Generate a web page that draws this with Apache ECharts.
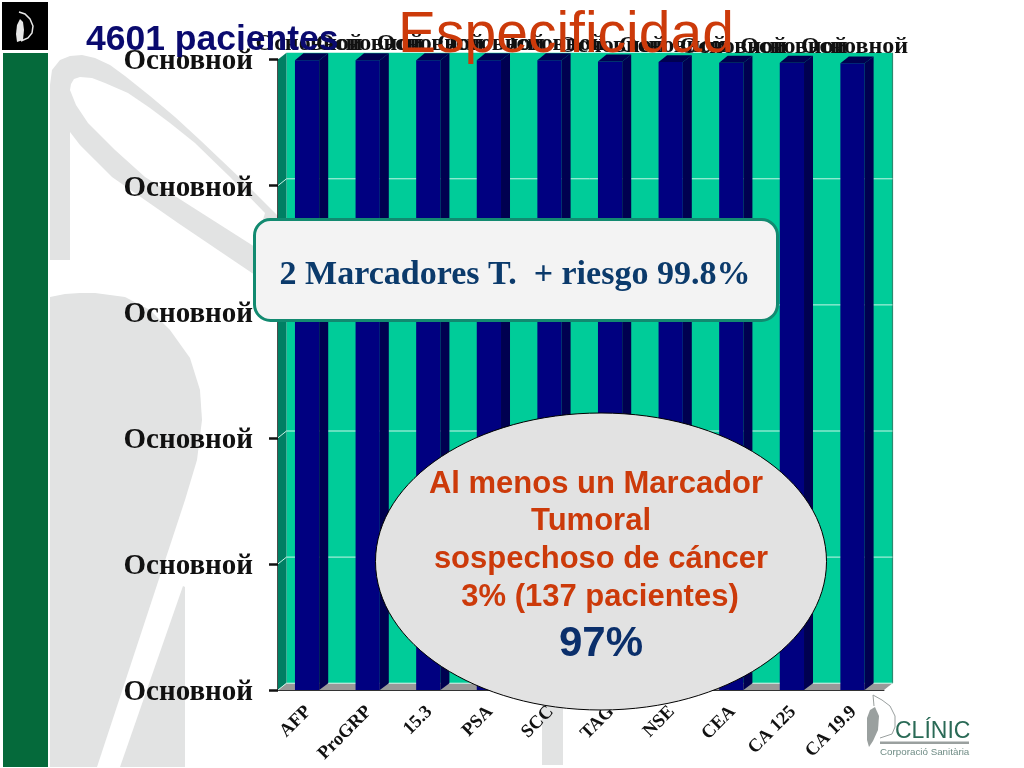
<!DOCTYPE html>
<html>
<head>
<meta charset="utf-8">
<style>
  html, body { margin: 0; padding: 0; background: #fff; }
  #chart { width: 1024px; height: 768px; }
</style>
<script src="https://cdn.jsdelivr.net/npm/echarts@6/dist/echarts.min.js"></script>
</head>
<body>
<div id="chart"></div>
<script>
// Chart data
const categories = ['AFP', 'ProGRP', '15.3', 'PSA', 'SCC', 'TAG', 'NSE', 'CEA', 'CA 125', 'CA 19.9'];
const specificity = [99.9, 99.9, 99.9, 99.9, 99.9, 99.7, 99.6, 99.5, 99.5, 99.4];
const yTickValues = [0, 20, 40, 60, 80, 100];
const yTickLabels = ['Основной', 'Основной', 'Основной', 'Основной', 'Основной', 'Основной'];
const barLabels = ['Основной', 'Основной', 'Основной', 'Основной', 'Основной', 'Основной', 'Основной', 'Основной', 'Основной', 'Основной'];

const SERIF = '"Liberation Serif", serif';
const SANS = '"Liberation Sans", sans-serif';
const depthX = 8.5;
const depthY = 6.8;

const chart = echarts.init(document.getElementById('chart'));

// Back wall, side wall, floor and gridlines of the fake 3D box
function renderWalls(params, api) {
    const box = params.coordSys;
    const left = box.x, right = box.x + box.width;
    const top = box.y, bottom = box.y + box.height;
    const children = [
        { type: 'rect', shape: { x: left + depthX, y: top - depthY, width: box.width, height: box.height },
          style: { fill: '#00cc99' } },
        { type: 'polygon', shape: { points: [[left, top], [left + depthX, top - depthY], [left + depthX, bottom - depthY], [left, bottom]] },
          style: { fill: '#007f63' } },
        { type: 'polygon', shape: { points: [[left, bottom], [left + depthX, bottom - depthY], [right + depthX, bottom - depthY], [right, bottom]] },
          style: { fill: '#999999' } },
        { type: 'line', shape: { x1: right + depthX, y1: top - depthY, x2: right + depthX, y2: bottom - depthY },
          style: { stroke: '#2b8a70', lineWidth: 1.2 } }
    ];
    yTickValues.slice(0, -1).forEach(v => {
        const y = api.coord([0, v])[1];
        children.push({ type: 'polyline',
            shape: { points: [[left, y], [left + depthX, y - depthY], [right + depthX, y - depthY]] },
            style: { stroke: '#c8f5e6', lineWidth: 1, fill: null } });
    });
    return { type: 'group', children };
}

// One fake 3D bar with its label above it
function renderBar(params, api) {
    const i = api.value(0);
    const top = api.coord([i, api.value(1)]);
    const base = api.coord([i, 0]);
    const band = api.size([1, 0])[0];
    const w = band * 0.4;
    const x0 = top[0] - band * 0.22;
    const x1 = x0 + w;
    return { type: 'group', children: [
        { type: 'rect', shape: { x: x0, y: top[1], width: w, height: base[1] - top[1] },
          style: { fill: '#000080' } },
        { type: 'polygon', shape: { points: [[x1, top[1]], [x1 + depthX + 0.5, top[1] - depthY], [x1 + depthX + 0.5, base[1] - depthY], [x1, base[1]]] },
          style: { fill: '#000050' } },
        { type: 'polygon', shape: { points: [[x0, top[1]], [x0 + depthX, top[1] - depthY], [x1 + depthX + 0.5, top[1] - depthY], [x1, top[1]]] },
          style: { fill: '#000050' } },
        { type: 'text', z2: 10, style: { text: barLabels[i], x: x0 + w / 2 + 2, y: top[1] - 16,
            textAlign: 'center', textVerticalAlign: 'middle', fill: '#111111',
            font: 'bold 24px ' + SERIF } }
    ] };
}

function poly(points, fill, z) {
    return { type: 'polygon', z, shape: { points }, style: { fill } };
}

function curve(points, stroke, z, lineWidth) {
    return { type: 'polyline', z, shape: { points }, style: { fill: null, stroke, lineWidth } };
}

function label(text, x, baseline, size, fill, weight, family, z, align) {
    return { type: 'text', z, style: { text, x, y: baseline - size * 0.82, textAlign: align || 'left', fill,
        font: weight + ' ' + size + 'px ' + family } };
}

// Decorative slide parts behind the chart
function backgroundElements() {
    const gray = '#e2e3e3';
    const logoGray = '#9aa09f';
    return [
        { type: 'rect', z: -10, shape: { x: 3, y: 53, width: 45, height: 714 }, style: { fill: '#056a3b' } },
        { type: 'rect', z: -10, shape: { x: 2, y: 2, width: 46, height: 48 }, style: { fill: '#000000' } },
        poly([[20, 19], [23, 22], [24, 30], [23, 40], [17, 42], [16, 34], [17, 25]], '#e8e8e8', -9),
        curve([[19, 12], [25, 14], [30, 19], [33, 26], [32, 33], [28, 38], [21, 41]], '#e8e8e8', -9, 1.5),
        // big watermark strokes
        poly([[50, 260], [50, 85], [52, 70], [60, 60], [70, 56], [82, 55], [95, 58], [110, 65], [125, 76], [150, 96], [175, 117], [200, 140], [240, 178], [278, 216], [278, 290], [252, 273], [215, 248], [178, 223], [145, 200], [112, 177], [95, 160], [80, 145], [70, 132], [70, 260]], gray, -9),
        poly([[70, 90], [71, 84], [74, 79], [80, 77], [92, 78], [105, 83], [128, 93], [150, 108], [170, 123], [195, 143], [230, 177], [265, 213], [255, 247], [200, 212], [145, 177], [115, 150], [88, 123], [76, 105]], '#ffffff', -8.5),
        poly([[50, 297], [65, 294], [80, 293], [95, 293], [125, 297], [150, 310], [170, 330], [190, 358], [200, 390], [202, 420], [197, 460], [185, 500], [97, 767], [50, 767]], gray, -9),
        poly([[183, 586], [185, 587], [185, 767], [120, 767]], gray, -9),
        { type: 'rect', z: -9, shape: { x: 542, y: 700, width: 21, height: 65 }, style: { fill: gray } },
        // Clinic logo, bottom right
        poly([[875, 707], [870, 710], [867, 718], [867, 740], [869, 747], [873, 741], [878, 730], [879, 716]], logoGray, -8),
        curve([[874, 706], [873, 695], [882, 700], [890, 706], [895, 716], [895, 727], [892, 734], [880, 738]], logoGray, -8, 1),
        label('CLÍNIC', 895, 739, 23, '#2a6a56', 'normal', '"Liberation Sans Narrow", ' + SANS, -8),
        { type: 'rect', z: -8, shape: { x: 880, y: 741.5, width: 89, height: 2.5 }, style: { fill: logoGray } },
        label('Corporació Sanitària', 880, 755, 9.8, '#6f8c85', 'normal', SANS, -8)
    ];
}

// Title texts and the two call-outs above the chart
function overlayElements() {
    const red = '#cc3a0a';
    const lines = [
        ['Al menos un Marcador', 596, 494],
        ['Tumoral', 591, 531],
        ['sospechoso de cáncer', 601, 569],
        ['3% (137 pacientes)', 600, 607]
    ];
    return [
        label('4601 pacientes', 86, 51, 35.5, '#0a0a6e', 'bold', SANS, 100),
        label('Especificidad', 398, 55, 57, red, 'normal', SANS, 100),
        { type: 'rect', z: 101, shape: { x: 254.5, y: 219.5, width: 523, height: 101, r: 16 },
          style: { fill: '#f3f3f3', stroke: '#128a70', lineWidth: 3 } },
        label('2 Marcadores T.  + riesgo 99.8%', 515, 286, 34, '#0b3a6b', 'bold', SERIF, 102, 'center'),
        { type: 'ellipse', z: 101, shape: { cx: 601, cy: 561.5, rx: 225.5, ry: 148.5 },
          style: { fill: '#e2e2e2', stroke: '#000000', lineWidth: 1 } },
        ...lines.map(l => label(l[0], l[1], l[2], 31, red, 'bold', SANS, 102, 'center')),
        label('97%', 601, 658, 42, '#0b2f6b', 'bold', SANS, 102, 'center')
    ];
}

const option = {
    backgroundColor: '#ffffff',
    animation: false,
    grid: { left: 278, right: 140, top: 59.5, bottom: 78 },
    xAxis: {
        type: 'category',
        data: categories,
        axisLine: { lineStyle: { color: '#333333', width: 1 } },
        axisTick: { length: 5, lineStyle: { color: '#555555' } },
        axisLabel: { rotate: 45, interval: 0, margin: 19, color: '#111111', fontFamily: SERIF, fontWeight: 'bold', fontSize: 18.5 }
    },
    yAxis: {
        type: 'value',
        min: 0,
        max: 100,
        interval: 20,
        splitLine: { show: false },
        axisLine: { show: true, lineStyle: { color: '#111111', width: 1.5 } },
        axisTick: { show: true, length: 9, lineStyle: { color: '#111111', width: 2.5 } },
        axisLabel: { margin: 25, color: '#111111',
            formatter: value => '{t|' + yTickLabels[yTickValues.indexOf(value)] + '}',
            rich: { t: { padding: [5, 0, 0, 0], color: '#111111', fontFamily: SERIF, fontWeight: 'bold', fontSize: 29 } } }
    },
    graphic: { elements: [...backgroundElements(), ...overlayElements()] },
    series: [
        { type: 'custom', name: 'Paredes', z: 1, renderItem: renderWalls, data: [[0, 0]], encode: { x: 0, y: 1 }, silent: true },
        { type: 'custom', name: 'Especificidad', z: 2, renderItem: renderBar,
          data: categories.map((c, i) => [i, specificity[i]]), encode: { x: 0, y: 1 } }
    ]
};

chart.setOption(option);
</script>
</body>
</html>
